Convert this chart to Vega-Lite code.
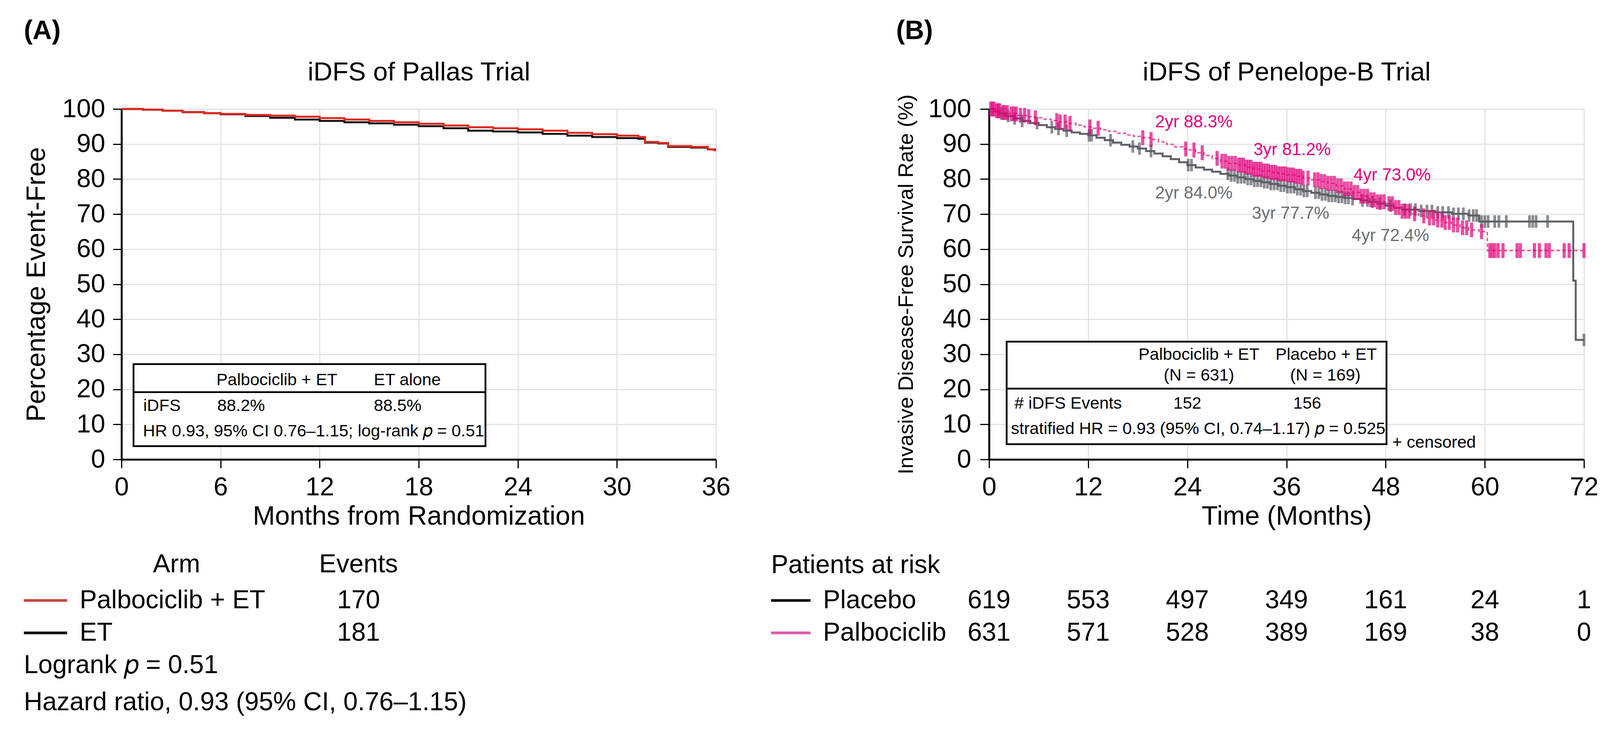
{
  "$schema": "https://vega.github.io/schema/vega-lite/v6.json",
  "background": "white",
  "padding": {"left": 60, "top": 46, "right": 5, "bottom": 5},
  "config": {
    "font": "Liberation Sans",
    "view": {"stroke": null},
    "axis": {
      "labelFontSize": 66, "titleFontSize": 68, "titleFontWeight": "normal",
      "labelColor": "#000", "titleColor": "#000", "tickColor": "#000", "domainColor": "#000",
      "gridColor": "#e3e3e3", "gridWidth": 3, "tickWidth": 3, "domainWidth": 5, "tickSize": 22,
      "labelFlush": false, "labelOverlap": false, "labelPadding": 17, "titlePadding": 8
    },
    "axisY": {"labelPadding": 20, "titlePadding": 30},
    "legend": {"labelFontSize": 66, "titleFontSize": 66, "titleFontWeight": "normal", "labelColor": "#000", "titleColor": "#000", "padding": 0, "labelLimit": 2000, "titleLimit": 2000},
    "title": {"color": "#000"},
    "text": {"color": "#000"}
  },
  "datasets": {
    "pallas": [
      {"arm": "ET", "month": 0, "pct": 100}, {"arm": "ET", "month": 1.3, "pct": 99.8}, {"arm": "ET", "month": 2.5, "pct": 99.5},
      {"arm": "ET", "month": 3.7, "pct": 99.1}, {"arm": "ET", "month": 5, "pct": 98.8}, {"arm": "ET", "month": 6, "pct": 98.5},
      {"arm": "ET", "month": 7.5, "pct": 98.0}, {"arm": "ET", "month": 9, "pct": 97.5}, {"arm": "ET", "month": 10.5, "pct": 97.0},
      {"arm": "ET", "month": 12, "pct": 96.6}, {"arm": "ET", "month": 13.5, "pct": 96.2}, {"arm": "ET", "month": 15, "pct": 95.9},
      {"arm": "ET", "month": 16.5, "pct": 95.5}, {"arm": "ET", "month": 18, "pct": 95.1}, {"arm": "ET", "month": 19.5, "pct": 94.5},
      {"arm": "ET", "month": 21, "pct": 93.8}, {"arm": "ET", "month": 22.5, "pct": 93.6}, {"arm": "ET", "month": 24, "pct": 93.3},
      {"arm": "ET", "month": 25.5, "pct": 92.9}, {"arm": "ET", "month": 27, "pct": 92.4}, {"arm": "ET", "month": 28.5, "pct": 92.0},
      {"arm": "ET", "month": 30, "pct": 91.7}, {"arm": "ET", "month": 31.3, "pct": 91.5}, {"arm": "ET", "month": 31.7, "pct": 90.4},
      {"arm": "ET", "month": 32.5, "pct": 90.2}, {"arm": "ET", "month": 33.1, "pct": 89.2}, {"arm": "ET", "month": 34.5, "pct": 89.0},
      {"arm": "ET", "month": 35.5, "pct": 88.5}, {"arm": "ET", "month": 36, "pct": 88.5},
      {"arm": "Palbociclib + ET", "month": 0, "pct": 100}, {"arm": "Palbociclib + ET", "month": 1.3, "pct": 99.8},
      {"arm": "Palbociclib + ET", "month": 2.5, "pct": 99.5}, {"arm": "Palbociclib + ET", "month": 3.7, "pct": 99.1},
      {"arm": "Palbociclib + ET", "month": 5, "pct": 98.8}, {"arm": "Palbociclib + ET", "month": 6, "pct": 98.6},
      {"arm": "Palbociclib + ET", "month": 7.5, "pct": 98.3}, {"arm": "Palbociclib + ET", "month": 9, "pct": 98.1},
      {"arm": "Palbociclib + ET", "month": 10.5, "pct": 97.8}, {"arm": "Palbociclib + ET", "month": 12, "pct": 97.4},
      {"arm": "Palbociclib + ET", "month": 13.5, "pct": 97.0}, {"arm": "Palbociclib + ET", "month": 15, "pct": 96.6},
      {"arm": "Palbociclib + ET", "month": 16.5, "pct": 96.2}, {"arm": "Palbociclib + ET", "month": 18, "pct": 95.8},
      {"arm": "Palbociclib + ET", "month": 19.5, "pct": 95.3}, {"arm": "Palbociclib + ET", "month": 21, "pct": 94.8},
      {"arm": "Palbociclib + ET", "month": 22.5, "pct": 94.5}, {"arm": "Palbociclib + ET", "month": 24, "pct": 94.2},
      {"arm": "Palbociclib + ET", "month": 25.5, "pct": 93.8}, {"arm": "Palbociclib + ET", "month": 27, "pct": 93.2},
      {"arm": "Palbociclib + ET", "month": 28.5, "pct": 92.8}, {"arm": "Palbociclib + ET", "month": 30, "pct": 92.4},
      {"arm": "Palbociclib + ET", "month": 31.3, "pct": 92.0}, {"arm": "Palbociclib + ET", "month": 31.7, "pct": 90.6},
      {"arm": "Palbociclib + ET", "month": 32.5, "pct": 90.3}, {"arm": "Palbociclib + ET", "month": 33.1, "pct": 89.4},
      {"arm": "Palbociclib + ET", "month": 34.5, "pct": 89.2}, {"arm": "Palbociclib + ET", "month": 35.5, "pct": 88.5},
      {"arm": "Palbociclib + ET", "month": 35.9, "pct": 88.2}, {"arm": "Palbociclib + ET", "month": 36, "pct": 88.2}
    ],
    "km": [
      {"arm": "Placebo", "month": 0, "pct": 100}, {"arm": "Placebo", "month": 0.6, "pct": 99.3}, {"arm": "Placebo", "month": 1.2, "pct": 98.7},
      {"arm": "Placebo", "month": 2, "pct": 98.0}, {"arm": "Placebo", "month": 3, "pct": 97.3}, {"arm": "Placebo", "month": 4, "pct": 96.6},
      {"arm": "Placebo", "month": 5, "pct": 96.0}, {"arm": "Placebo", "month": 6, "pct": 95.4}, {"arm": "Placebo", "month": 7, "pct": 94.8},
      {"arm": "Placebo", "month": 8, "pct": 94.3}, {"arm": "Placebo", "month": 9, "pct": 93.8}, {"arm": "Placebo", "month": 10, "pct": 93.3},
      {"arm": "Placebo", "month": 11, "pct": 92.9}, {"arm": "Placebo", "month": 12, "pct": 92.5}, {"arm": "Placebo", "month": 13, "pct": 91.8},
      {"arm": "Placebo", "month": 14, "pct": 91.1}, {"arm": "Placebo", "month": 15, "pct": 90.4}, {"arm": "Placebo", "month": 16, "pct": 89.8},
      {"arm": "Placebo", "month": 17, "pct": 89.3}, {"arm": "Placebo", "month": 18, "pct": 88.7}, {"arm": "Placebo", "month": 19, "pct": 88.0},
      {"arm": "Placebo", "month": 20, "pct": 87.3}, {"arm": "Placebo", "month": 21, "pct": 86.5}, {"arm": "Placebo", "month": 22, "pct": 85.7},
      {"arm": "Placebo", "month": 23, "pct": 84.8}, {"arm": "Placebo", "month": 24, "pct": 84.0}, {"arm": "Placebo", "month": 25, "pct": 83.3},
      {"arm": "Placebo", "month": 26, "pct": 82.7}, {"arm": "Placebo", "month": 27, "pct": 82.1}, {"arm": "Placebo", "month": 28, "pct": 81.5},
      {"arm": "Placebo", "month": 29, "pct": 81.0}, {"arm": "Placebo", "month": 30, "pct": 80.5}, {"arm": "Placebo", "month": 31, "pct": 80.0},
      {"arm": "Placebo", "month": 32, "pct": 79.5}, {"arm": "Placebo", "month": 33, "pct": 79.1}, {"arm": "Placebo", "month": 34, "pct": 78.6},
      {"arm": "Placebo", "month": 35, "pct": 78.1}, {"arm": "Placebo", "month": 36, "pct": 77.7}, {"arm": "Placebo", "month": 37, "pct": 77.1},
      {"arm": "Placebo", "month": 38, "pct": 76.6}, {"arm": "Placebo", "month": 39, "pct": 76.1}, {"arm": "Placebo", "month": 40, "pct": 75.6},
      {"arm": "Placebo", "month": 41, "pct": 75.2}, {"arm": "Placebo", "month": 42, "pct": 74.9}, {"arm": "Placebo", "month": 43, "pct": 74.6},
      {"arm": "Placebo", "month": 44, "pct": 74.3}, {"arm": "Placebo", "month": 45, "pct": 73.9}, {"arm": "Placebo", "month": 46, "pct": 73.5},
      {"arm": "Placebo", "month": 47, "pct": 73.0}, {"arm": "Placebo", "month": 48, "pct": 72.4}, {"arm": "Placebo", "month": 49, "pct": 71.8},
      {"arm": "Placebo", "month": 50, "pct": 71.3}, {"arm": "Placebo", "month": 52, "pct": 70.9}, {"arm": "Placebo", "month": 54, "pct": 70.5},
      {"arm": "Placebo", "month": 56, "pct": 70.1}, {"arm": "Placebo", "month": 58, "pct": 69.6}, {"arm": "Placebo", "month": 59.3, "pct": 67.9},
      {"arm": "Placebo", "month": 70.7, "pct": 51.0}, {"arm": "Placebo", "month": 71.0, "pct": 34.1}, {"arm": "Placebo", "month": 72, "pct": 34.1},
      {"arm": "Palbociclib", "month": 0, "pct": 100}, {"arm": "Palbociclib", "month": 0.8, "pct": 99.5}, {"arm": "Palbociclib", "month": 1.6, "pct": 99.0},
      {"arm": "Palbociclib", "month": 2.5, "pct": 98.6}, {"arm": "Palbociclib", "month": 3.5, "pct": 98.2}, {"arm": "Palbociclib", "month": 4.5, "pct": 97.8},
      {"arm": "Palbociclib", "month": 5.5, "pct": 97.5}, {"arm": "Palbociclib", "month": 6.5, "pct": 97.1}, {"arm": "Palbociclib", "month": 7.5, "pct": 96.7},
      {"arm": "Palbociclib", "month": 8.5, "pct": 96.3}, {"arm": "Palbociclib", "month": 9.5, "pct": 95.9}, {"arm": "Palbociclib", "month": 10.5, "pct": 95.4},
      {"arm": "Palbociclib", "month": 11.5, "pct": 94.9}, {"arm": "Palbociclib", "month": 12.5, "pct": 94.5}, {"arm": "Palbociclib", "month": 13.5, "pct": 94.1},
      {"arm": "Palbociclib", "month": 14.5, "pct": 93.6}, {"arm": "Palbociclib", "month": 15.5, "pct": 93.1}, {"arm": "Palbociclib", "month": 16.5, "pct": 92.6},
      {"arm": "Palbociclib", "month": 17.5, "pct": 92.2}, {"arm": "Palbociclib", "month": 18.5, "pct": 91.8}, {"arm": "Palbociclib", "month": 19.5, "pct": 91.3},
      {"arm": "Palbociclib", "month": 20.5, "pct": 90.6}, {"arm": "Palbociclib", "month": 21.5, "pct": 89.9}, {"arm": "Palbociclib", "month": 22.5, "pct": 89.2},
      {"arm": "Palbociclib", "month": 23.5, "pct": 88.6}, {"arm": "Palbociclib", "month": 24, "pct": 88.3}, {"arm": "Palbociclib", "month": 25, "pct": 87.5},
      {"arm": "Palbociclib", "month": 26, "pct": 86.7}, {"arm": "Palbociclib", "month": 27, "pct": 85.9}, {"arm": "Palbociclib", "month": 28, "pct": 85.1},
      {"arm": "Palbociclib", "month": 29, "pct": 84.5}, {"arm": "Palbociclib", "month": 30, "pct": 84.0}, {"arm": "Palbociclib", "month": 31, "pct": 83.4},
      {"arm": "Palbociclib", "month": 32, "pct": 82.8}, {"arm": "Palbociclib", "month": 33, "pct": 82.3}, {"arm": "Palbociclib", "month": 34, "pct": 81.9},
      {"arm": "Palbociclib", "month": 35, "pct": 81.5}, {"arm": "Palbociclib", "month": 36, "pct": 81.2}, {"arm": "Palbociclib", "month": 37, "pct": 80.8},
      {"arm": "Palbociclib", "month": 38, "pct": 80.3}, {"arm": "Palbociclib", "month": 39, "pct": 79.8}, {"arm": "Palbociclib", "month": 40, "pct": 79.3},
      {"arm": "Palbociclib", "month": 41, "pct": 78.8}, {"arm": "Palbociclib", "month": 42, "pct": 78.1}, {"arm": "Palbociclib", "month": 43, "pct": 77.2},
      {"arm": "Palbociclib", "month": 44, "pct": 76.2}, {"arm": "Palbociclib", "month": 45, "pct": 75.1}, {"arm": "Palbociclib", "month": 46, "pct": 74.1},
      {"arm": "Palbociclib", "month": 47, "pct": 73.5}, {"arm": "Palbociclib", "month": 48, "pct": 73.0}, {"arm": "Palbociclib", "month": 49, "pct": 71.9},
      {"arm": "Palbociclib", "month": 50, "pct": 70.8}, {"arm": "Palbociclib", "month": 51, "pct": 70.1}, {"arm": "Palbociclib", "month": 52, "pct": 69.5},
      {"arm": "Palbociclib", "month": 53, "pct": 68.9}, {"arm": "Palbociclib", "month": 54, "pct": 68.3}, {"arm": "Palbociclib", "month": 55, "pct": 67.6},
      {"arm": "Palbociclib", "month": 56, "pct": 66.9}, {"arm": "Palbociclib", "month": 57, "pct": 66.1}, {"arm": "Palbociclib", "month": 58, "pct": 65.5},
      {"arm": "Palbociclib", "month": 59.3, "pct": 65.0}, {"arm": "Palbociclib", "month": 60.3, "pct": 59.6}, {"arm": "Palbociclib", "month": 72, "pct": 59.6}
    ],
    "censor": [
      {"arm": "Placebo", "month": 1.5, "pct": 98.7}, {"arm": "Placebo", "month": 2.3, "pct": 98.0}, {"arm": "Placebo", "month": 3.1, "pct": 97.3},
      {"arm": "Placebo", "month": 4.0, "pct": 96.6}, {"arm": "Placebo", "month": 5.8, "pct": 96.0}, {"arm": "Placebo", "month": 7.6, "pct": 94.8},
      {"arm": "Placebo", "month": 8.4, "pct": 94.3}, {"arm": "Placebo", "month": 9.4, "pct": 93.8}, {"arm": "Placebo", "month": 12.1, "pct": 92.5},
      {"arm": "Placebo", "month": 12.4, "pct": 92.5}, {"arm": "Placebo", "month": 14.7, "pct": 91.1}, {"arm": "Placebo", "month": 17.4, "pct": 89.3},
      {"arm": "Placebo", "month": 18.2, "pct": 88.7}, {"arm": "Placebo", "month": 19.6, "pct": 88.0}, {"arm": "Placebo", "month": 24.1, "pct": 84.0},
      {"arm": "Placebo", "month": 24.5, "pct": 84.0}, {"arm": "Placebo", "month": 28.9, "pct": 81.5}, {"arm": "Placebo", "month": 29.3, "pct": 81.0},
      {"arm": "Placebo", "month": 29.7, "pct": 81.0}, {"arm": "Placebo", "month": 30.1, "pct": 80.5}, {"arm": "Placebo", "month": 30.5, "pct": 80.5},
      {"arm": "Placebo", "month": 30.9, "pct": 80.5}, {"arm": "Placebo", "month": 31.3, "pct": 80.0}, {"arm": "Placebo", "month": 31.7, "pct": 80.0},
      {"arm": "Placebo", "month": 32.1, "pct": 79.5}, {"arm": "Placebo", "month": 32.5, "pct": 79.5}, {"arm": "Placebo", "month": 32.9, "pct": 79.5},
      {"arm": "Placebo", "month": 33.3, "pct": 79.1}, {"arm": "Placebo", "month": 33.7, "pct": 79.1}, {"arm": "Placebo", "month": 34.1, "pct": 78.6},
      {"arm": "Placebo", "month": 34.5, "pct": 78.6}, {"arm": "Placebo", "month": 34.9, "pct": 78.6}, {"arm": "Placebo", "month": 35.3, "pct": 78.1},
      {"arm": "Placebo", "month": 35.7, "pct": 78.1}, {"arm": "Placebo", "month": 36.1, "pct": 77.7}, {"arm": "Placebo", "month": 36.5, "pct": 77.7},
      {"arm": "Placebo", "month": 36.9, "pct": 77.7}, {"arm": "Placebo", "month": 37.3, "pct": 77.1}, {"arm": "Placebo", "month": 37.7, "pct": 77.1},
      {"arm": "Placebo", "month": 38.1, "pct": 76.6}, {"arm": "Placebo", "month": 38.5, "pct": 76.6}, {"arm": "Placebo", "month": 39.5, "pct": 76.1},
      {"arm": "Placebo", "month": 39.9, "pct": 76.1}, {"arm": "Placebo", "month": 40.3, "pct": 75.6}, {"arm": "Placebo", "month": 40.7, "pct": 75.6},
      {"arm": "Placebo", "month": 41.1, "pct": 75.2}, {"arm": "Placebo", "month": 41.5, "pct": 75.2}, {"arm": "Placebo", "month": 41.9, "pct": 75.2},
      {"arm": "Placebo", "month": 42.3, "pct": 74.9}, {"arm": "Placebo", "month": 42.7, "pct": 74.9}, {"arm": "Placebo", "month": 43.1, "pct": 74.6},
      {"arm": "Placebo", "month": 43.5, "pct": 74.6}, {"arm": "Placebo", "month": 44.0, "pct": 74.3}, {"arm": "Placebo", "month": 45.2, "pct": 73.9},
      {"arm": "Placebo", "month": 45.8, "pct": 73.9}, {"arm": "Placebo", "month": 46.4, "pct": 73.5}, {"arm": "Placebo", "month": 47.3, "pct": 73.0},
      {"arm": "Placebo", "month": 48.6, "pct": 72.4}, {"arm": "Placebo", "month": 50.3, "pct": 71.3}, {"arm": "Placebo", "month": 51.0, "pct": 71.3},
      {"arm": "Placebo", "month": 51.6, "pct": 71.3}, {"arm": "Placebo", "month": 52.3, "pct": 70.9}, {"arm": "Placebo", "month": 53.0, "pct": 70.9},
      {"arm": "Placebo", "month": 53.6, "pct": 70.9}, {"arm": "Placebo", "month": 54.3, "pct": 70.5}, {"arm": "Placebo", "month": 54.9, "pct": 70.5},
      {"arm": "Placebo", "month": 55.6, "pct": 70.5}, {"arm": "Placebo", "month": 56.2, "pct": 70.1}, {"arm": "Placebo", "month": 56.8, "pct": 70.1},
      {"arm": "Placebo", "month": 57.4, "pct": 70.1}, {"arm": "Placebo", "month": 58.1, "pct": 69.6}, {"arm": "Placebo", "month": 58.6, "pct": 69.6},
      {"arm": "Placebo", "month": 59.0, "pct": 69.6}, {"arm": "Placebo", "month": 59.6, "pct": 67.9}, {"arm": "Placebo", "month": 60.0, "pct": 67.9},
      {"arm": "Placebo", "month": 60.4, "pct": 67.9}, {"arm": "Placebo", "month": 61.2, "pct": 67.9}, {"arm": "Placebo", "month": 61.7, "pct": 67.9},
      {"arm": "Placebo", "month": 62.6, "pct": 67.9}, {"arm": "Placebo", "month": 65.4, "pct": 67.9}, {"arm": "Placebo", "month": 65.8, "pct": 67.9},
      {"arm": "Placebo", "month": 66.2, "pct": 67.9}, {"arm": "Placebo", "month": 67.6, "pct": 67.9}, {"arm": "Placebo", "month": 72.0, "pct": 34.1},
      {"arm": "Palbociclib", "month": 0.2, "pct": 100}, {"arm": "Palbociclib", "month": 0.4, "pct": 100}, {"arm": "Palbociclib", "month": 0.6, "pct": 100},
      {"arm": "Palbociclib", "month": 0.9, "pct": 99.5}, {"arm": "Palbociclib", "month": 1.1, "pct": 99.5}, {"arm": "Palbociclib", "month": 1.3, "pct": 99.5},
      {"arm": "Palbociclib", "month": 1.7, "pct": 99.0}, {"arm": "Palbociclib", "month": 1.9, "pct": 99.0}, {"arm": "Palbociclib", "month": 2.2, "pct": 99.0},
      {"arm": "Palbociclib", "month": 2.7, "pct": 98.6}, {"arm": "Palbociclib", "month": 3.0, "pct": 98.6}, {"arm": "Palbociclib", "month": 3.3, "pct": 98.6},
      {"arm": "Palbociclib", "month": 3.8, "pct": 98.2}, {"arm": "Palbociclib", "month": 4.3, "pct": 98.2}, {"arm": "Palbociclib", "month": 4.8, "pct": 97.8},
      {"arm": "Palbociclib", "month": 5.6, "pct": 97.5}, {"arm": "Palbociclib", "month": 8.2, "pct": 96.7}, {"arm": "Palbociclib", "month": 8.6, "pct": 96.3},
      {"arm": "Palbociclib", "month": 9.2, "pct": 96.3}, {"arm": "Palbociclib", "month": 9.8, "pct": 95.9}, {"arm": "Palbociclib", "month": 12.2, "pct": 94.9},
      {"arm": "Palbociclib", "month": 13.2, "pct": 94.5}, {"arm": "Palbociclib", "month": 18.6, "pct": 91.8}, {"arm": "Palbociclib", "month": 19.6, "pct": 91.3},
      {"arm": "Palbociclib", "month": 23.8, "pct": 88.6}, {"arm": "Palbociclib", "month": 24.8, "pct": 88.3}, {"arm": "Palbociclib", "month": 25.8, "pct": 87.5},
      {"arm": "Palbociclib", "month": 27.6, "pct": 85.9}, {"arm": "Palbociclib", "month": 28.2, "pct": 85.1}, {"arm": "Palbociclib", "month": 28.6, "pct": 85.1},
      {"arm": "Palbociclib", "month": 29.0, "pct": 84.5}, {"arm": "Palbociclib", "month": 29.4, "pct": 84.5}, {"arm": "Palbociclib", "month": 29.8, "pct": 84.5},
      {"arm": "Palbociclib", "month": 30.2, "pct": 84.0}, {"arm": "Palbociclib", "month": 30.5, "pct": 84.0}, {"arm": "Palbociclib", "month": 30.8, "pct": 84.0},
      {"arm": "Palbociclib", "month": 31.1, "pct": 83.4}, {"arm": "Palbociclib", "month": 31.4, "pct": 83.4}, {"arm": "Palbociclib", "month": 31.7, "pct": 83.4},
      {"arm": "Palbociclib", "month": 32.0, "pct": 82.8}, {"arm": "Palbociclib", "month": 32.3, "pct": 82.8}, {"arm": "Palbociclib", "month": 32.6, "pct": 82.8},
      {"arm": "Palbociclib", "month": 32.9, "pct": 82.8}, {"arm": "Palbociclib", "month": 33.2, "pct": 82.3}, {"arm": "Palbociclib", "month": 33.5, "pct": 82.3},
      {"arm": "Palbociclib", "month": 33.8, "pct": 82.3}, {"arm": "Palbociclib", "month": 34.1, "pct": 81.9}, {"arm": "Palbociclib", "month": 34.4, "pct": 81.9},
      {"arm": "Palbociclib", "month": 34.7, "pct": 81.9}, {"arm": "Palbociclib", "month": 35.0, "pct": 81.5}, {"arm": "Palbociclib", "month": 35.3, "pct": 81.5},
      {"arm": "Palbociclib", "month": 35.6, "pct": 81.5}, {"arm": "Palbociclib", "month": 35.9, "pct": 81.5}, {"arm": "Palbociclib", "month": 36.2, "pct": 81.2},
      {"arm": "Palbociclib", "month": 36.5, "pct": 81.2}, {"arm": "Palbociclib", "month": 36.8, "pct": 81.2}, {"arm": "Palbociclib", "month": 37.1, "pct": 80.8},
      {"arm": "Palbociclib", "month": 37.4, "pct": 80.8}, {"arm": "Palbociclib", "month": 37.7, "pct": 80.8}, {"arm": "Palbociclib", "month": 38.0, "pct": 80.3},
      {"arm": "Palbociclib", "month": 38.6, "pct": 80.3}, {"arm": "Palbociclib", "month": 39.4, "pct": 79.8}, {"arm": "Palbociclib", "month": 39.8, "pct": 79.8},
      {"arm": "Palbociclib", "month": 40.2, "pct": 79.3}, {"arm": "Palbociclib", "month": 40.6, "pct": 79.3}, {"arm": "Palbociclib", "month": 41.0, "pct": 78.8},
      {"arm": "Palbociclib", "month": 41.4, "pct": 78.8}, {"arm": "Palbociclib", "month": 41.8, "pct": 78.8}, {"arm": "Palbociclib", "month": 42.2, "pct": 78.1},
      {"arm": "Palbociclib", "month": 42.6, "pct": 78.1}, {"arm": "Palbociclib", "month": 43.0, "pct": 77.2}, {"arm": "Palbociclib", "month": 43.4, "pct": 77.2},
      {"arm": "Palbociclib", "month": 43.8, "pct": 77.2}, {"arm": "Palbociclib", "month": 44.2, "pct": 76.2}, {"arm": "Palbociclib", "month": 44.6, "pct": 76.2},
      {"arm": "Palbociclib", "month": 45.0, "pct": 75.1}, {"arm": "Palbociclib", "month": 45.4, "pct": 75.1}, {"arm": "Palbociclib", "month": 45.8, "pct": 75.1},
      {"arm": "Palbociclib", "month": 46.2, "pct": 74.1}, {"arm": "Palbociclib", "month": 46.6, "pct": 74.1}, {"arm": "Palbociclib", "month": 47.0, "pct": 73.5},
      {"arm": "Palbociclib", "month": 47.4, "pct": 73.5}, {"arm": "Palbociclib", "month": 47.8, "pct": 73.5}, {"arm": "Palbociclib", "month": 48.4, "pct": 73.0},
      {"arm": "Palbociclib", "month": 48.8, "pct": 73.0}, {"arm": "Palbociclib", "month": 49.2, "pct": 71.9}, {"arm": "Palbociclib", "month": 49.6, "pct": 71.9},
      {"arm": "Palbociclib", "month": 50.0, "pct": 70.8}, {"arm": "Palbociclib", "month": 50.4, "pct": 70.8}, {"arm": "Palbociclib", "month": 50.8, "pct": 70.8},
      {"arm": "Palbociclib", "month": 51.5, "pct": 70.1}, {"arm": "Palbociclib", "month": 52.6, "pct": 69.5}, {"arm": "Palbociclib", "month": 53.3, "pct": 68.9},
      {"arm": "Palbociclib", "month": 53.8, "pct": 68.9}, {"arm": "Palbociclib", "month": 54.3, "pct": 68.3}, {"arm": "Palbociclib", "month": 54.8, "pct": 68.3},
      {"arm": "Palbociclib", "month": 55.2, "pct": 67.6}, {"arm": "Palbociclib", "month": 55.7, "pct": 67.6}, {"arm": "Palbociclib", "month": 56.2, "pct": 66.9},
      {"arm": "Palbociclib", "month": 56.7, "pct": 66.9}, {"arm": "Palbociclib", "month": 57.3, "pct": 66.1}, {"arm": "Palbociclib", "month": 57.8, "pct": 66.1},
      {"arm": "Palbociclib", "month": 58.4, "pct": 65.5}, {"arm": "Palbociclib", "month": 59.6, "pct": 65.0}, {"arm": "Palbociclib", "month": 60.6, "pct": 59.6},
      {"arm": "Palbociclib", "month": 60.9, "pct": 59.6}, {"arm": "Palbociclib", "month": 61.2, "pct": 59.6}, {"arm": "Palbociclib", "month": 61.6, "pct": 59.6},
      {"arm": "Palbociclib", "month": 62.2, "pct": 59.6}, {"arm": "Palbociclib", "month": 63.9, "pct": 59.6}, {"arm": "Palbociclib", "month": 64.3, "pct": 59.6},
      {"arm": "Palbociclib", "month": 66.0, "pct": 59.6}, {"arm": "Palbociclib", "month": 66.6, "pct": 59.6}, {"arm": "Palbociclib", "month": 67.4, "pct": 59.6},
      {"arm": "Palbociclib", "month": 67.8, "pct": 59.6}, {"arm": "Palbociclib", "month": 69.6, "pct": 59.6}, {"arm": "Palbociclib", "month": 70.2, "pct": 59.6},
      {"arm": "Palbociclib", "month": 72.0, "pct": 59.6}
    ],
    "risk": [
      {"arm": "Placebo", "month": 0, "n": 619}, {"arm": "Placebo", "month": 12, "n": 553}, {"arm": "Placebo", "month": 24, "n": 497},
      {"arm": "Placebo", "month": 36, "n": 349}, {"arm": "Placebo", "month": 48, "n": 161}, {"arm": "Placebo", "month": 60, "n": 24},
      {"arm": "Placebo", "month": 72, "n": 1},
      {"arm": "Palbociclib", "month": 0, "n": 631}, {"arm": "Palbociclib", "month": 12, "n": 571}, {"arm": "Palbociclib", "month": 24, "n": 528},
      {"arm": "Palbociclib", "month": 36, "n": 389}, {"arm": "Palbociclib", "month": 48, "n": 169}, {"arm": "Palbociclib", "month": 60, "n": 38},
      {"arm": "Palbociclib", "month": 72, "n": 0}
    ],
    "events": [
      {"arm": "Palbociclib + ET", "events": 170},
      {"arm": "ET", "events": 181}
    ]
  },
  "columns": 2,
  "spacing": {"row": 239, "column": 699},
  "bounds": "flush",
  "resolve": {"scale": {"color": "independent"}},
  "concat": [
    {
      "width": 1522, "height": 897,
      "title": {"text": "(A)", "anchor": "start", "fontSize": 68, "fontWeight": "bold", "offset": 37},
      "resolve": {"axis": {"x": "independent", "y": "independent"}},
      "layer": [
        {
          "data": {"name": "pallas"},
          "mark": {"type": "line", "interpolate": "step-after", "strokeWidth": 5},
          "encoding": {
            "x": {"field": "month", "type": "quantitative", "scale": {"domain": [0, 36], "nice": false},
              "axis": {"orient": "bottom", "values": [0, 6, 12, 18, 24, 30, 36], "title": "Months from Randomization"}},
            "y": {"field": "pct", "type": "quantitative", "scale": {"domain": [0, 100], "nice": false},
              "axis": {"orient": "left", "values": [0, 10, 20, 30, 40, 50, 60, 70, 80, 90, 100], "title": "Percentage Event-Free"}},
            "color": {"field": "arm", "type": "nominal", "scale": {"domain": ["ET", "Palbociclib + ET"], "range": ["#141414", "#e3261f"]}, "legend": null}
          }
        },
        {
          "data": {"values": [{}]},
          "mark": {"type": "rect", "fill": "white", "stroke": "black", "strokeWidth": 4.5},
          "encoding": {
            "x": {"datum": 0.73, "type": "quantitative", "axis": null}, "x2": {"datum": 22.04},
            "y": {"datum": 3.8, "type": "quantitative", "axis": null}, "y2": {"datum": 27.2}
          }
        },
        {
          "data": {"values": [{}]},
          "mark": {"type": "rule", "stroke": "black", "strokeWidth": 4.5},
          "encoding": {
            "x": {"datum": 0.73, "type": "quantitative", "axis": null}, "x2": {"datum": 22.04},
            "y": {"datum": 19.2, "type": "quantitative", "axis": null}
          }
        },
        {
          "data": {"values": [
            {"month": 5.75, "pct": 22.6, "label": "Palbociclib + ET"},
            {"month": 15.28, "pct": 22.6, "label": "ET alone"},
            {"month": 1.32, "pct": 15.3, "label": "iDFS"},
            {"month": 5.8, "pct": 15.3, "label": "88.2%"},
            {"month": 15.28, "pct": 15.3, "label": "88.5%"},
            {"month": 1.3, "pct": 8.0, "label": "HR 0.93, 95% CI 0.76–1.15; log-rank 𝑝 = 0.51"}
          ]},
          "mark": {"type": "text", "align": "left", "baseline": "middle", "fontSize": 43},
          "encoding": {
            "x": {"field": "month", "type": "quantitative",
              "axis": {"orient": "top", "title": "iDFS of Pallas Trial", "labels": false, "ticks": false, "domain": false, "grid": false, "titleFontSize": 67, "titlePadding": 60}},
            "y": {"field": "pct", "type": "quantitative", "axis": null},
            "text": {"field": "label"}
          }
        }
      ]
    },
    {
      "width": 1523, "height": 897,
      "title": {"text": "(B)", "anchor": "start", "fontSize": 68, "fontWeight": "bold", "offset": 37},
      "resolve": {"axis": {"x": "independent", "y": "independent"}},
      "layer": [
        {
          "data": {"name": "km"},
          "transform": [{"filter": "datum.arm == 'Placebo'"}],
          "mark": {"type": "line", "interpolate": "step-after", "strokeWidth": 5, "color": "#5e6168"},
          "encoding": {
            "x": {"field": "month", "type": "quantitative", "scale": {"domain": [0, 72], "nice": false},
              "axis": {"orient": "bottom", "values": [0, 12, 24, 36, 48, 60, 72], "title": "Time (Months)"}},
            "y": {"field": "pct", "type": "quantitative", "scale": {"domain": [0, 100], "nice": false},
              "axis": {"orient": "left", "values": [0, 10, 20, 30, 40, 50, 60, 70, 80, 90, 100], "title": "Invasive Disease-Free Survival Rate (%)", "titleFontSize": 54, "titlePadding": 28, "labelPadding": 23, "tickSize": 23}}
          }
        },
        {
          "data": {"name": "censor"},
          "transform": [{"filter": "datum.arm == 'Placebo'"}],
          "mark": {"type": "tick", "orient": "vertical", "size": 32, "thickness": 7, "color": "#5a5d64"},
          "encoding": {
            "x": {"field": "month", "type": "quantitative", "axis": null},
            "y": {"field": "pct", "type": "quantitative", "axis": null}
          }
        },
        {
          "data": {"name": "km"},
          "transform": [{"filter": "datum.arm == 'Palbociclib'"}],
          "mark": {"type": "line", "interpolate": "step-after", "strokeWidth": 3.5, "color": "#e8509a", "strokeDash": [9, 6]},
          "encoding": {
            "x": {"field": "month", "type": "quantitative", "axis": null},
            "y": {"field": "pct", "type": "quantitative", "axis": null}
          }
        },
        {
          "data": {"name": "censor"},
          "transform": [{"filter": "datum.arm == 'Palbociclib'"}],
          "mark": {"type": "tick", "orient": "vertical", "size": 38, "thickness": 8, "color": "#e2007a"},
          "encoding": {
            "x": {"field": "month", "type": "quantitative", "axis": null},
            "y": {"field": "pct", "type": "quantitative", "axis": null}
          }
        },
        {
          "data": {"values": [
            {"arm": "Palbociclib", "month": 20.1, "pct": 96.2, "label": "2yr 88.3%"},
            {"arm": "Palbociclib", "month": 32.0, "pct": 88.3, "label": "3yr 81.2%"},
            {"arm": "Palbociclib", "month": 44.1, "pct": 81.1, "label": "4yr 73.0%"},
            {"arm": "Placebo", "month": 20.1, "pct": 75.9, "label": "2yr 84.0%"},
            {"arm": "Placebo", "month": 31.8, "pct": 70.1, "label": "3yr 77.7%"},
            {"arm": "Placebo", "month": 43.9, "pct": 63.8, "label": "4yr 72.4%"}
          ]},
          "mark": {"type": "text", "align": "left", "baseline": "middle", "fontSize": 44},
          "encoding": {
            "x": {"field": "month", "type": "quantitative", "axis": null},
            "y": {"field": "pct", "type": "quantitative", "axis": null},
            "text": {"field": "label"},
            "color": {"field": "arm", "type": "nominal", "scale": {"domain": ["Palbociclib", "Placebo"], "range": ["#e2007a", "#6b6e74"]}, "legend": null}
          }
        },
        {
          "data": {"values": [{}]},
          "mark": {"type": "rect", "fill": "white", "stroke": "black", "strokeWidth": 4.5},
          "encoding": {
            "x": {"datum": 2.13, "type": "quantitative", "axis": null}, "x2": {"datum": 48.1},
            "y": {"datum": 4.35, "type": "quantitative", "axis": null}, "y2": {"datum": 33.6}
          }
        },
        {
          "data": {"values": [{}]},
          "mark": {"type": "rule", "stroke": "black", "strokeWidth": 4.5},
          "encoding": {
            "x": {"datum": 2.13, "type": "quantitative", "axis": null}, "x2": {"datum": 48.1},
            "y": {"datum": 20.2, "type": "quantitative", "axis": null}
          }
        },
        {
          "data": {"values": [
            {"month": 25.4, "pct": 29.9, "label": "Palbociclib + ET"},
            {"month": 40.8, "pct": 29.9, "label": "Placebo + ET"},
            {"month": 25.4, "pct": 24.0, "label": "(N = 631)"},
            {"month": 40.7, "pct": 24.0, "label": "(N = 169)"},
            {"month": 24.0, "pct": 15.9, "label": "152"},
            {"month": 38.5, "pct": 15.9, "label": "156"}
          ]},
          "mark": {"type": "text", "align": "center", "baseline": "middle", "fontSize": 43},
          "encoding": {
            "x": {"field": "month", "type": "quantitative", "axis": null},
            "y": {"field": "pct", "type": "quantitative", "axis": null},
            "text": {"field": "label"}
          }
        },
        {
          "data": {"values": [
            {"month": 3.07, "pct": 15.9, "label": "# iDFS Events"},
            {"month": 2.65, "pct": 8.7, "label": "stratified HR = 0.93 (95% CI, 0.74–1.17) 𝑝 = 0.525"},
            {"month": 48.8, "pct": 4.8, "label": "+ censored"}
          ]},
          "mark": {"type": "text", "align": "left", "baseline": "middle", "fontSize": 43},
          "encoding": {
            "x": {"field": "month", "type": "quantitative",
              "axis": {"orient": "top", "title": "iDFS of Penelope-B Trial", "labels": false, "ticks": false, "domain": false, "grid": false, "titleFontSize": 67, "titlePadding": 60}},
            "y": {"field": "pct", "type": "quantitative", "axis": null},
            "text": {"field": "label"}
          }
        }
      ]
    },
    {
      "width": 748, "height": 244,
      "title": {"text": ["Logrank 𝑝 = 0.51", "Hazard ratio, 0.93 (95% CI, 0.76–1.15)"], "orient": "bottom", "anchor": "start", "fontSize": 66, "fontWeight": "normal", "lineHeight": 95, "offset": 12},
      "layer": [
        {
          "data": {"name": "events"},
          "mark": {"type": "text", "fontSize": 66, "baseline": "middle"},
          "encoding": {
            "x": {"datum": "Events", "type": "nominal", "scale": {"type": "point", "domain": ["Arm", "Events"], "padding": 0.3026}, "axis": null},
            "y": {"field": "arm", "type": "nominal", "scale": {"type": "point", "domain": ["header", "Palbociclib + ET", "ET"], "padding": 0.47}, "axis": null},
            "text": {"field": "events", "type": "quantitative"}
          }
        },
        {
          "data": {"values": [{"heading": "Arm"}, {"heading": "Events"}]},
          "mark": {"type": "text", "fontSize": 66, "baseline": "middle", "dy": -9},
          "encoding": {
            "x": {"field": "heading", "type": "nominal", "axis": null},
            "y": {"datum": "header", "type": "nominal", "axis": null},
            "text": {"field": "heading"}
          }
        },
        {
          "data": {"name": "events"},
          "mark": {"type": "line", "strokeWidth": 7},
          "encoding": {
            "x": {"datum": "Arm", "type": "nominal", "axis": null},
            "y": {"field": "arm", "type": "nominal", "axis": null},
            "color": {"field": "arm", "type": "nominal", "scale": {"domain": ["Palbociclib + ET", "ET"], "range": ["#cc4444", "#111111"]},
              "legend": {"orient": "left", "offset": -369, "title": "\u00a0", "titlePadding": 23, "labelOffset": 77, "symbolType": "M-1.4348,0H3.391", "symbolSize": 2116, "symbolStrokeWidth": 7, "rowPadding": 17}}
          }
        }
      ]
    },
    {
      "width": 1523, "height": 244,
      "layer": [
        {
          "data": {"name": "risk"},
          "mark": {"type": "text", "fontSize": 66, "baseline": "middle"},
          "encoding": {
            "x": {"field": "month", "type": "quantitative", "scale": {"domain": [0, 72], "nice": false}, "axis": null},
            "y": {"field": "arm", "type": "nominal", "scale": {"type": "point", "domain": ["header", "Placebo", "Palbociclib"], "padding": 0.47}, "axis": null},
            "text": {"field": "n", "type": "quantitative"}
          }
        },
        {
          "data": {"values": [{"arm": "Placebo"}, {"arm": "Palbociclib"}]},
          "mark": {"type": "line", "strokeWidth": 7},
          "encoding": {
            "x": {"datum": 0, "type": "quantitative", "axis": null},
            "y": {"field": "arm", "type": "nominal", "axis": null},
            "color": {"field": "arm", "type": "nominal", "scale": {"domain": ["Placebo", "Palbociclib"], "range": ["#111111", "#e05aa8"]},
              "legend": {"orient": "left", "offset": 95, "title": "Patients at risk", "titlePadding": 23, "labelOffset": 67, "symbolType": "M-1.4348,0H2.956", "symbolSize": 2116, "symbolStrokeWidth": 7, "rowPadding": 17}}
          }
        }
      ]
    }
  ]
}
